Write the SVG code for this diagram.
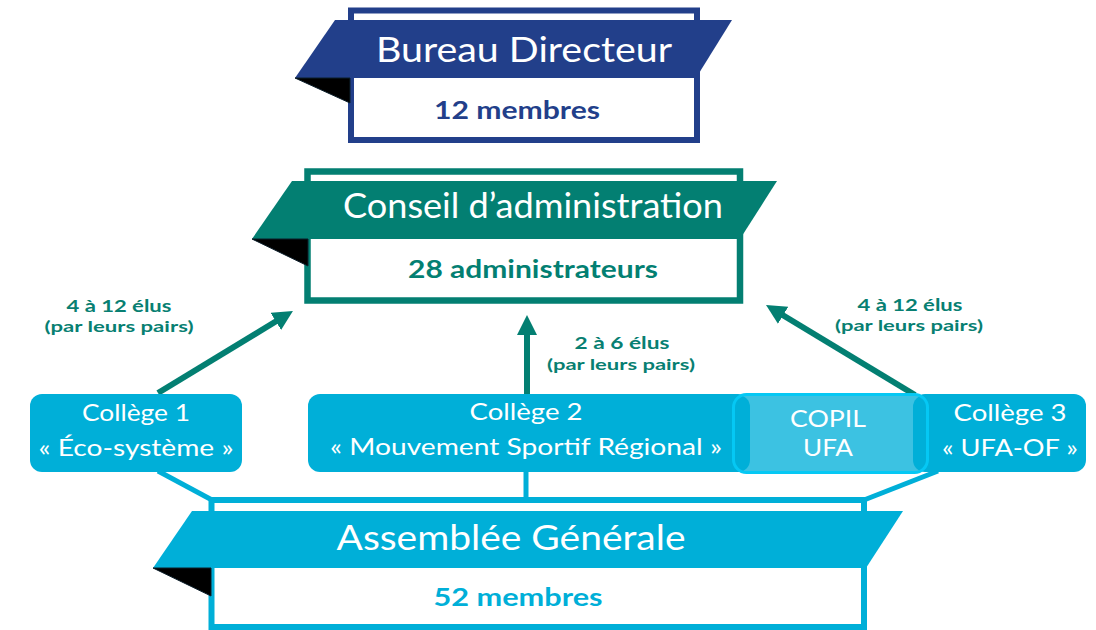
<svg xmlns="http://www.w3.org/2000/svg" width="1096" height="630" viewBox="0 0 1096 630">
<style>
text{font-family:Lato,"Noto Sans","DejaVu Sans",sans-serif;text-anchor:middle}
.title{font-size:34px;fill:#ffffff;font-weight:400}
.sub{font-size:25px;font-weight:700}
.col{font-size:23px;fill:#ffffff;font-weight:400}
.lbl1{font-size:17px;font-weight:700;fill:#087f72}
.lbl2{font-size:15px;font-weight:700;fill:#087f72}
.fold{fill:#000000;stroke:#0b1e2a;stroke-width:1}
.navy{fill:#223f8a}
.teal{fill:#037f72}
.cyan{fill:#00afd8}
.box{fill:#00afd8}
.arrow{stroke:#037f72;stroke-width:6;fill:none}
.link{stroke:#00afd8;stroke-width:5;fill:none}
</style>
<defs>
<marker id="ah" markerUnits="userSpaceOnUse" markerWidth="22" markerHeight="22" refX="6" refY="10" orient="auto">
<path d="M0,0 L20,10 L0,20 z" fill="#037f72"/>
</marker>
<clipPath id="copilClip"><rect x="733.5" y="394.5" width="194" height="78" rx="13"/></clipPath>
</defs>

<g id="connectors">
<line class="arrow" x1="158" y1="393" x2="281" y2="318.3" marker-end="url(#ah)"/>
<line class="arrow" x1="527" y1="394" x2="527" y2="329" marker-end="url(#ah)"/>
<line class="arrow" x1="915" y1="395" x2="778" y2="312.2" marker-end="url(#ah)"/>
<line class="link" x1="158" y1="471" x2="212" y2="500"/>
<line class="link" x1="526" y1="471" x2="526" y2="500"/>
<line class="link" x1="938" y1="471" x2="864" y2="500"/>
</g>

<g id="label-left">
<text class="lbl1" x="119" y="312" textLength="105" lengthAdjust="spacingAndGlyphs">4 à 12 élus</text>
<text class="lbl2" x="119" y="332" textLength="149" lengthAdjust="spacingAndGlyphs">(par leurs pairs)</text>
</g>
<g id="label-middle">
<text class="lbl1" x="622" y="349" textLength="95" lengthAdjust="spacingAndGlyphs">2 à 6 élus</text>
<text class="lbl2" x="621" y="370" textLength="148" lengthAdjust="spacingAndGlyphs">(par leurs pairs)</text>
</g>
<g id="label-right">
<text class="lbl1" x="910" y="311" textLength="105" lengthAdjust="spacingAndGlyphs">4 à 12 élus</text>
<text class="lbl2" x="909" y="331" textLength="148" lengthAdjust="spacingAndGlyphs">(par leurs pairs)</text>
</g>

<g id="bureau-directeur">
<rect x="351" y="10.5" width="346" height="129.5" fill="#ffffff" stroke="#223f8a" stroke-width="6"/>
<polygon class="navy" points="295,78 335,20 732,20 696,78"/>
<polygon class="fold" points="295,78 350,78 350,103"/>
<text class="title" x="524" y="62" textLength="296" lengthAdjust="spacingAndGlyphs">Bureau Directeur</text>
<text class="sub navy" x="517" y="119" textLength="166" lengthAdjust="spacingAndGlyphs">12 membres</text>
</g>

<g id="conseil-administration">
<rect x="307.5" y="171.5" width="432.5" height="129" fill="#ffffff" stroke="#037f72" stroke-width="6.5"/>
<polygon class="teal" points="252,239 292,181 777,181 740,239"/>
<polygon class="fold" points="252,239 308,239 308,266"/>
<text class="title" x="533" y="218" textLength="380" lengthAdjust="spacingAndGlyphs">Conseil d’administration</text>
<text class="sub teal" x="533" y="278" textLength="250" lengthAdjust="spacingAndGlyphs">28 administrateurs</text>
</g>

<g id="assemblee-generale">
<rect x="211.5" y="500" width="652.5" height="127" fill="#ffffff" stroke="#00afd8" stroke-width="6"/>
<polygon class="cyan" points="153,568 192,511 903,511 866,568"/>
<polygon class="fold" points="153,568 211,568 211,596"/>
<text class="title" x="511" y="550" textLength="349" lengthAdjust="spacingAndGlyphs">Assemblée Générale</text>
<text class="sub cyan" x="518" y="606" textLength="169" lengthAdjust="spacingAndGlyphs">52 membres</text>
</g>

<g id="college-1">
<rect class="box" x="30" y="394" width="212" height="78" rx="12"/>
<text class="col" x="136" y="421" textLength="108" lengthAdjust="spacingAndGlyphs">Collège 1</text>
<text class="col" x="136" y="456" textLength="195" lengthAdjust="spacingAndGlyphs">« Éco-système »</text>
</g>

<g id="college-2">
<rect class="box" x="308" y="394" width="442" height="78" rx="12"/>
<text class="col" x="526" y="420" textLength="113" lengthAdjust="spacingAndGlyphs">Collège 2</text>
<text class="col" x="526" y="455" textLength="392" lengthAdjust="spacingAndGlyphs">« Mouvement Sportif Régional »</text>
</g>

<g id="college-3">
<rect class="box" x="913" y="394" width="173" height="78" rx="12"/>
<text class="col" x="1010" y="421" textLength="113" lengthAdjust="spacingAndGlyphs">Collège 3</text>
<text class="col" x="1010" y="456" textLength="136" lengthAdjust="spacingAndGlyphs">« UFA-OF »</text>
</g>

<g id="copil-ufa">
<rect x="733.5" y="394.5" width="194" height="78" rx="13" fill="#3cc2e2"/>
<g clip-path="url(#copilClip)">
<rect class="box" x="700" y="395" width="50" height="77" rx="12"/>
<rect class="box" x="913" y="395" width="60" height="77" rx="12"/>
</g>
<rect x="733.5" y="394.5" width="194" height="78" rx="13" fill="none" stroke="#05c8f4" stroke-width="3"/>
<text class="col" x="828" y="427" textLength="76" lengthAdjust="spacingAndGlyphs">COPIL</text>
<text class="col" x="828" y="456" textLength="50" lengthAdjust="spacingAndGlyphs">UFA</text>
</g>
</svg>
